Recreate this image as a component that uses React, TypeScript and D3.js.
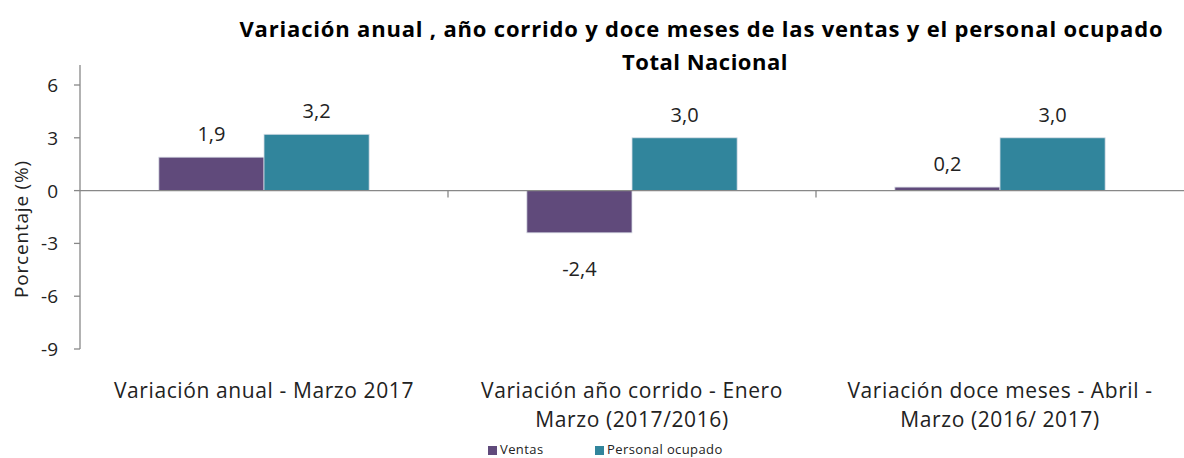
import React, { useEffect, useRef } from 'react';
import * as d3 from 'd3';

const categories = [
    ['Variación anual - Marzo 2017'],
    ['Variación año corrido - Enero', 'Marzo (2017/2016)'],
    ['Variación doce meses - Abril -', 'Marzo (2016/ 2017)']
];
const seriesNames = ['Ventas', 'Personal ocupado'];
const ventas = [1.9, -2.4, 0.2];
const personal = [3.2, 3.0, 3.0];
const yTicks = [6, 3, 0, -3, -6, -9];
const colours = ['#604a7b', '#31859c'];

const W = 1184;
const H = 458;
const FONT = '"Open Sans", "Noto Sans", sans-serif';

export default function App() {
    const ref = useRef<SVGSVGElement>(null);

    useEffect(() => {
        const svg = d3.select(ref.current);
        svg.selectAll('*').remove();

        const left = 80;
        const right = 1184;
        const x = d3.scaleBand<number>()
            .domain(categories.map((_, i) => i))
            .range([left, right]);
        const y = d3.scaleLinear().domain([-9, 6]).range([349, 85]);
        const inner = d3.scaleBand<number>()
            .domain([0, 1])
            .range([0, x.bandwidth()])
            .paddingOuter(0.75)
            .paddingInner(0);

        svg.append('text')
            .attr('x', 701).attr('y', 37)
            .attr('text-anchor', 'middle')
            .attr('font-family', FONT)
            .attr('font-weight', 'bold')
            .attr('font-size', 22)
            .attr('textLength', 923)
            .attr('lengthAdjust', 'spacing')
            .text('Variación anual , año corrido y doce meses de las ventas y el personal ocupado');
        svg.append('text')
            .attr('x', 705).attr('y', 70)
            .attr('text-anchor', 'middle')
            .attr('font-family', FONT)
            .attr('font-weight', 'bold')
            .attr('font-size', 22)
            .attr('letter-spacing', 0.5)
            .text('Total Nacional');

        // y axis
        svg.append('line')
            .attr('x1', left).attr('x2', left)
            .attr('y1', 65).attr('y2', y(-9))
            .attr('stroke', '#888').attr('stroke-width', 1.3);
        yTicks.forEach(t => {
            svg.append('line')
                .attr('x1', left - 6).attr('x2', left)
                .attr('y1', y(t)).attr('y2', y(t))
                .attr('stroke', '#888').attr('stroke-width', 1.3);
            svg.append('text')
                .attr('x', 58).attr('y', y(t) + 7)
                .attr('text-anchor', 'end')
                .attr('font-family', FONT)
                .attr('font-size', 19)
                .attr('fill', '#222')
                .text(t);
        });
        svg.append('text')
            .attr('transform', `translate(28, 229) rotate(-90)`)
            .attr('text-anchor', 'middle')
            .attr('font-family', FONT)
            .attr('font-size', 19)
            .attr('letter-spacing', 0.8)
            .attr('fill', '#222')
            .text('Porcentaje (%)');

        const data = [ventas, personal];
        data.forEach((vals, s) => {
            vals.forEach((v, i) => {
                const bx = (x(i) as number) + (inner(s) as number);
                const y0 = y(Math.max(0, v));
                const h = Math.abs(y(v) - y(0));
                svg.append('rect')
                    .attr('x', bx).attr('y', y0)
                    .attr('width', inner.bandwidth()).attr('height', h)
                    .attr('fill', colours[s])
                    .attr('stroke', '#d8dde6').attr('stroke-width', 0.8);
                const ly = v >= 0 ? y(v) - 16 : y(v) + 43;
                svg.append('text')
                    .attr('x', bx + inner.bandwidth() / 2).attr('y', ly)
                    .attr('text-anchor', 'middle')
                    .attr('font-family', FONT)
                    .attr('font-size', 20)
                    .attr('fill', '#222')
                    .text(d3.format('.1f')(v).replace('.', ',').replace('−', '-'));
            });
        });

        // zero line with category ticks
        svg.append('line')
            .attr('x1', left).attr('x2', right)
            .attr('y1', y(0)).attr('y2', y(0))
            .attr('stroke', '#888').attr('stroke-width', 1.3);
        categories.slice(1).forEach((_, i) => {
            const cx = x(i + 1) as number;
            svg.append('line')
                .attr('x1', cx).attr('x2', cx)
                .attr('y1', y(0)).attr('y2', y(0) + 7)
                .attr('stroke', '#888').attr('stroke-width', 1.3);
        });

        categories.forEach((lines, i) => {
            const cx = (x(i) as number) + x.bandwidth() / 2;
            lines.forEach((l, j) => {
                svg.append('text')
                    .attr('x', cx).attr('y', 398 + j * 29)
                    .attr('text-anchor', 'middle')
                    .attr('font-family', FONT)
                    .attr('font-size', 21)
                    .attr('letter-spacing', 0.6)
                    .attr('fill', '#222')
                    .text(l);
            });
        });

        // legend
        const legendX = [488, 595];
        seriesNames.forEach((name, s) => {
            svg.append('rect')
                .attr('x', legendX[s]).attr('y', 446)
                .attr('width', 9).attr('height', 9)
                .attr('fill', colours[s]);
            svg.append('text')
                .attr('x', legendX[s] + 12).attr('y', 454)
                .attr('font-family', FONT)
                .attr('font-size', 13)
                .attr('letter-spacing', 0.4)
                .attr('fill', '#222')
                .text(name);
        });
    }, []);

    return (
        <svg ref={ref} width={W} height={H}
            style={{ position: 'absolute', left: 0, top: 0, background: '#fff' }} />
    );
}
